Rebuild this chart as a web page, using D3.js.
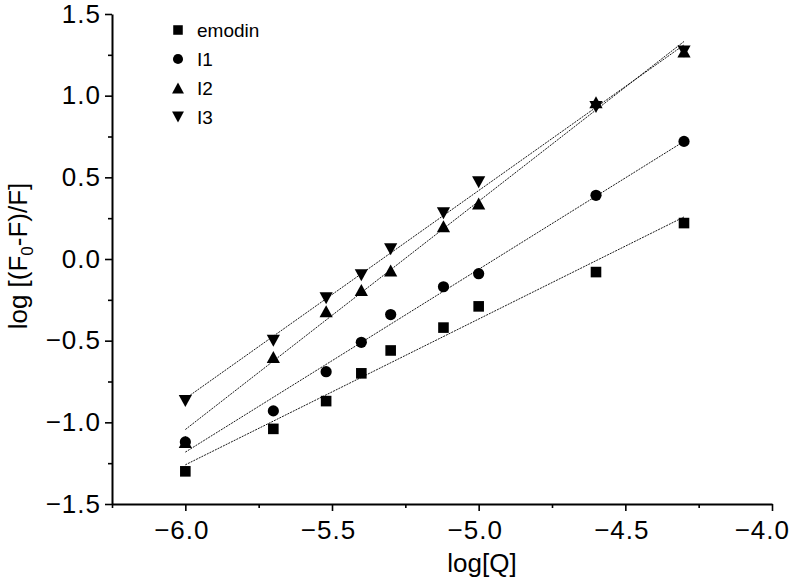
<!DOCTYPE html>
<html><head><meta charset="utf-8">
<script src="https://cdn.jsdelivr.net/npm/d3@7"></script>
<style>
body{margin:0;background:#fff}
text{font-family:"Liberation Sans",Arial,Helvetica,sans-serif;fill:#000}
</style>
</head><body>
<svg id="c" width="792" height="584"></svg>
<script>
// ---- data ----
const logQ   = [-6.0, -5.7, -5.52, -5.4, -5.3, -5.12, -5.0, -4.6, -4.3];
const emodin = [-1.30, -1.04, -0.87, -0.70, -0.56, -0.42, -0.29, -0.08, 0.22];
const I1     = [-1.12, -0.93, -0.69, -0.51, -0.34, -0.17, -0.09, 0.39, 0.72];
const I2     = [-1.12, -0.60, -0.32, -0.19, -0.07, 0.20, 0.34, 0.96, 1.27];
const I3     = [-0.87, -0.50, -0.24, -0.10, 0.06, 0.28, 0.47, 0.93, 1.27];
const seriesNames = ["emodin", "I1", "I2", "I3"];
const seriesValues = [emodin, I1, I2, I3];
const xTicks = [-6.0, -5.5, -5.0, -4.5, -4.0];
const xMinor = [-6.25, -5.75, -5.25, -4.75, -4.25];
const yTicks = [-1.5, -1.0, -0.5, 0.0, 0.5, 1.0, 1.5];
const yMinor = [-1.25, -0.75, -0.25, 0.25, 0.75, 1.25];

// ---- layout ----
const W = 792;
const svg = d3.select("#c");
const L = 112, R = 772, T = 14, B = 504;
const x = d3.scaleLinear().domain([-6.25, -4.0]).range([L, R]);
const y = d3.scaleLinear().domain([-1.5, 1.5]).range([B, T]);
const fmt = d3.format(".1f");

// symbols (relative shapes, centred on bbox)
function shapePath(kind) {
  const p = d3.path();
  if (kind === 0) { const s = 5.3; p.rect(-s, -s, 2*s, 2*s); }
  else if (kind === 1) { p.arc(0, 0, 5.6, 0, 2*Math.PI); }
  else if (kind === 2) { const w = 6.6, h = 6; p.moveTo(0, -h); p.lineTo(w, h); p.lineTo(-w, h); p.closePath(); }
  else { const w = 6.6, h = 6; p.moveTo(0, h); p.lineTo(w, -h); p.lineTo(-w, -h); p.closePath(); }
  return p.toString();
}

// fit lines (least squares from the data)
function fit(xs, ys) {
  const mx = d3.mean(xs), my = d3.mean(ys);
  let sxy = 0, sxx = 0;
  xs.forEach((v, i) => { sxy += (v - mx) * (ys[i] - my); sxx += (v - mx) * (v - mx); });
  const b = sxy / sxx, a = my - b * mx;
  return v => a + b * v;
}
const xExt = d3.extent(logQ);
seriesValues.forEach(vals => {
  const f = fit(logQ, vals);
  svg.append("line")
    .attr("x1", x(xExt[0])).attr("y1", y(f(xExt[0])))
    .attr("x2", x(xExt[1])).attr("y2", y(f(xExt[1])))
    .attr("stroke", "#000").attr("stroke-width", 0.9)
    .attr("stroke-dasharray", "2,1");
});

// markers
seriesValues.forEach((vals, k) => {
  svg.append("g").selectAll("path").data(vals).join("path")
    .attr("d", shapePath(k))
    .attr("transform", (d, i) => `translate(${x(logQ[i])},${y(d)})`)
    .attr("fill", "#000");
});

// axes
const tickFont = 26;
const xg = svg.append("g").attr("transform", `translate(0,${B})`)
  .call(d3.axisBottom(x).tickValues(xTicks).tickFormat(fmt).tickSize(7).tickSizeOuter(0).tickPadding(10));
svg.append("g").attr("transform", `translate(0,${B})`)
  .call(d3.axisBottom(x).tickValues(xMinor).tickFormat("").tickSize(4).tickSizeOuter(0))
  .select(".domain").remove();
const yg = svg.append("g").attr("transform", `translate(${L},0)`)
  .call(d3.axisLeft(y).tickValues(yTicks).tickFormat(fmt).tickSize(7).tickSizeOuter(0).tickPadding(5));
svg.append("g").attr("transform", `translate(${L},0)`)
  .call(d3.axisLeft(y).tickValues(yMinor).tickFormat("").tickSize(4).tickSizeOuter(0))
  .select(".domain").remove();

svg.selectAll(".domain").attr("stroke", "#000").attr("stroke-width", 2);
svg.selectAll(".tick line").attr("stroke", "#000").attr("stroke-width", 1.6);
svg.selectAll(".tick text").attr("font-size", tickFont)
  .attr("letter-spacing", 1)
  .attr("font-family", "Liberation Sans, Arial, sans-serif").attr("fill", "#000");
yg.selectAll(".tick text").attr("dx", 1);

// keep bottom labels inside the frame (last one pulled in, as in the reference)
xg.selectAll(".tick text").each(function() {
  const t = d3.select(this);
  const bb = this.getBBox();
  const tx = +d3.select(this.parentNode).attr("transform").match(/translate\(([-\d.]+)/)[1];
  const right = tx + bb.x + bb.width;
  let shift = -4;
  if (right + shift > W - 2) shift = (W - 2) - right;
  t.attr("x", shift);
});

// axis titles
svg.append("text").attr("x", 482).attr("y", 572).attr("text-anchor", "middle")
  .attr("font-size", 26).text("log[Q]");
const yl = svg.append("text").attr("transform", `translate(27,256) rotate(-90)`)
  .attr("text-anchor", "middle").attr("font-size", 26);
yl.append("tspan").text("log [(F");
yl.append("tspan").attr("font-size", 17).attr("dy", 6).text("0");
yl.append("tspan").attr("dy", -6).text("-F)/F]");

// legend
const legY0 = 30, legDy = 29;
seriesNames.forEach((name, k) => {
  const cy = legY0 + k * legDy;
  svg.append("path").attr("d", shapePath(k)).attr("transform", `translate(178,${cy}) scale(0.9)`).attr("fill", "#000");
  svg.append("text").attr("x", 197).attr("y", cy).attr("dy", "0.35em")
    .attr("font-size", 19).text(name);
});
</script>
</body></html>
